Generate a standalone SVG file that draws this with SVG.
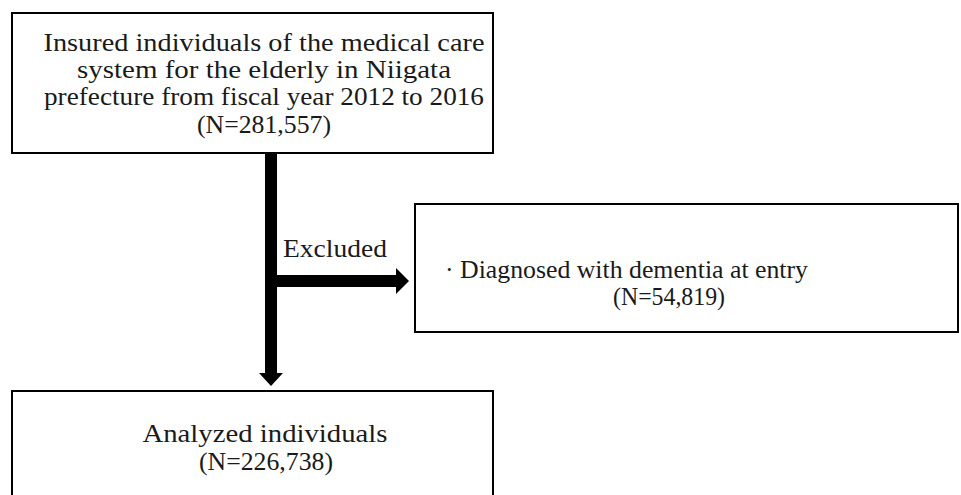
<svg xmlns="http://www.w3.org/2000/svg" width="961" height="495" viewBox="0 0 961 495">
<style>
.box{fill:#fff;stroke:#000;stroke-width:2}
.t{font-family:"Liberation Serif","Times New Roman",serif;font-size:25px;fill:#1a1a1a}
.c{text-anchor:middle}
</style>
<rect width="961" height="495" fill="#fff"/>
<g id="connectors" fill="#000">
<rect x="265" y="153" width="12" height="222"/>
<polygon points="259,373 283,373 271,386"/>
<rect x="277" y="275" width="121" height="12"/>
<polygon points="396,268 396,294 409,281"/>
<text class="t" x="283" y="257" textLength="104" lengthAdjust="spacingAndGlyphs">Excluded</text>
</g>
<g id="n1">
<rect class="box" x="12" y="13" width="481" height="140"/>
<text class="t c" x="264" y="51" textLength="441" lengthAdjust="spacingAndGlyphs">Insured individuals of the medical care</text>
<text class="t c" x="264" y="78" textLength="374" lengthAdjust="spacingAndGlyphs">system for the elderly in Niigata</text>
<text class="t c" x="264" y="105" textLength="440" lengthAdjust="spacingAndGlyphs">prefecture from fiscal year 2012 to 2016</text>
<text class="t c" x="264" y="133" textLength="134" lengthAdjust="spacingAndGlyphs">(N=281,557)</text>
</g>
<g id="n2">
<rect class="box" x="415" y="204" width="543" height="128"/>
<text class="t" x="445" y="278" textLength="363" lengthAdjust="spacingAndGlyphs">· Diagnosed with dementia at entry</text>
<text class="t c" x="669" y="305" textLength="112" lengthAdjust="spacingAndGlyphs">(N=54,819)</text>
</g>
<g id="n3">
<rect class="box" x="12" y="391" width="481" height="120"/>
<text class="t c" x="265" y="442" textLength="245" lengthAdjust="spacingAndGlyphs">Analyzed individuals</text>
<text class="t c" x="266" y="470" textLength="134" lengthAdjust="spacingAndGlyphs">(N=226,738)</text>
</g>
</svg>
